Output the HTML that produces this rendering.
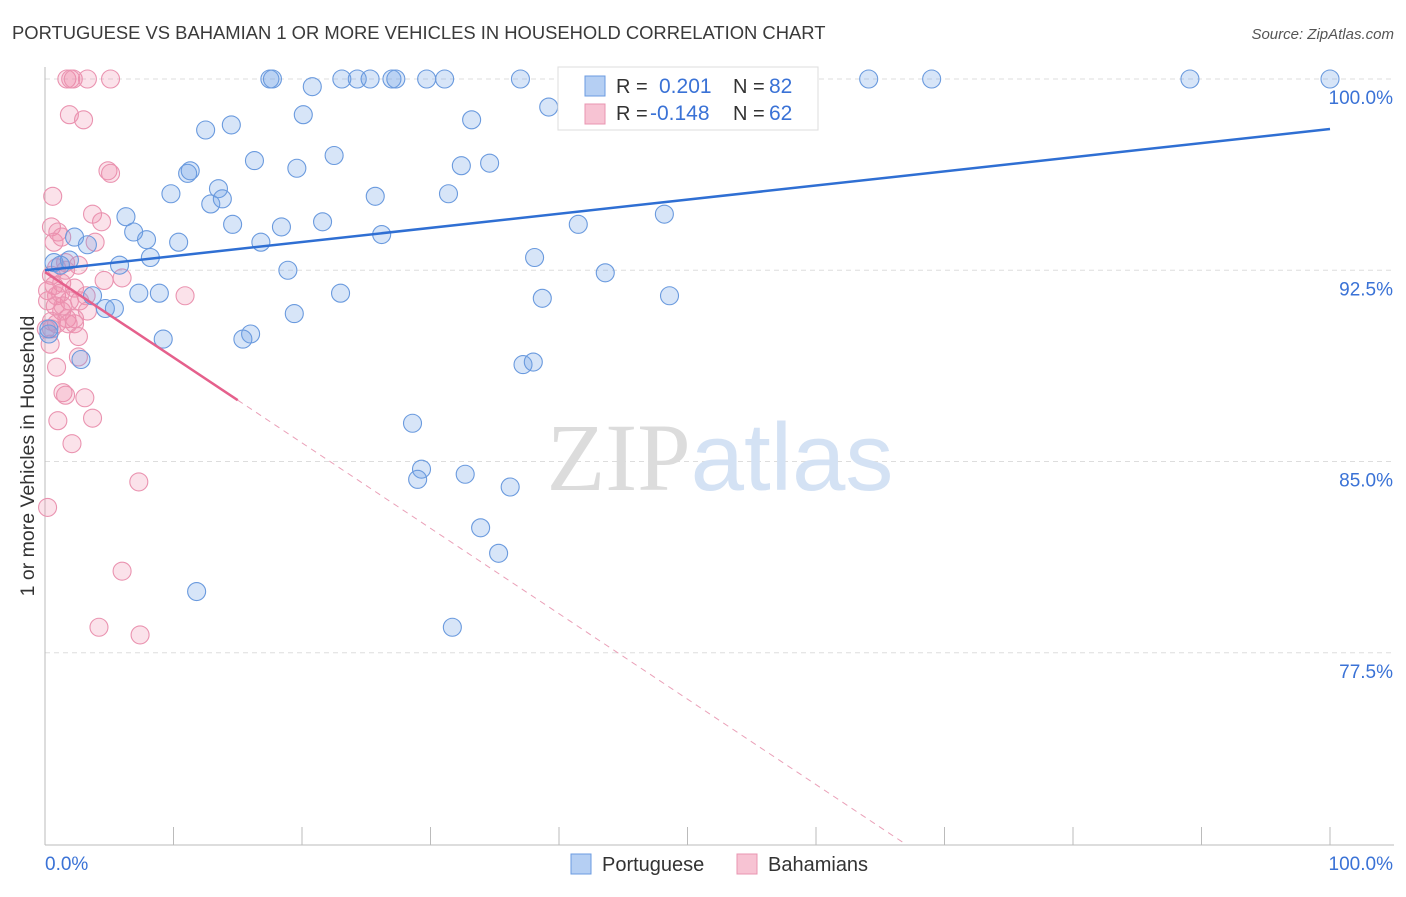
<!DOCTYPE html>
<html><head><meta charset="utf-8"><style>
body{margin:0;background:#fff;font-family:"Liberation Sans",sans-serif;}
svg text{font-family:"Liberation Sans",sans-serif;}
</style></head><body>
<svg id="chart" width="1406" height="892" viewBox="0 0 1406 892" xmlns="http://www.w3.org/2000/svg">
<text x="12" y="39" font-size="18.4" fill="#3a3a3a">PORTUGUESE VS BAHAMIAN 1 OR MORE VEHICLES IN HOUSEHOLD CORRELATION CHART</text>
<text x="1394" y="39" font-size="15" fill="#555" text-anchor="end" font-style="italic">Source: ZipAtlas.com</text>
<g id="grid"></g>
<g id="axes"></g>
<text x="720" y="490" font-size="96" text-anchor="middle" fill="#e4e4e4"><tspan font-family="Liberation Serif" fill="#dcdcdc">ZIP</tspan><tspan fill="#d4e2f4">atlas</tspan></text>
<g id="pts"></g>
<g id="lines"></g>
<text transform="translate(34,456) rotate(-90)" font-size="19.5" fill="#333" text-anchor="middle">1 or more Vehicles in Household</text>
<g>
<rect x="558" y="67" width="260" height="63" fill="#fff" stroke="#ddd"/>
<rect x="585" y="76" width="20" height="20" fill="#b5cff3" stroke="#6b9be0"/>
<rect x="585" y="104" width="20" height="20" fill="#f7c3d3" stroke="#e894b0"/>
<text x="616" y="93" font-size="20" fill="#333">R = </text><text x="659" y="93" font-size="21" fill="#3a72d6">0.201</text>
<text x="733" y="93" font-size="20" fill="#333">N = </text><text x="769" y="93" font-size="21" fill="#3a72d6">82</text>
<text x="616" y="120" font-size="20" fill="#333">R = </text><text x="650" y="120" font-size="21" fill="#3a72d6">-0.148</text>
<text x="733" y="120" font-size="20" fill="#333">N = </text><text x="769" y="120" font-size="21" fill="#3a72d6">62</text>
</g>
<g>
<rect x="571" y="854" width="20" height="20" fill="#b5cff3" stroke="#6b9be0"/>
<text x="602" y="871" font-size="20" fill="#333">Portuguese</text>
<rect x="737" y="854" width="20" height="20" fill="#f7c3d3" stroke="#e894b0"/>
<text x="768" y="871" font-size="20" fill="#333">Bahamians</text>
</g>
</svg>
<script>
const yTicks=[100,92.5,85,77.5];
const yTickLabels=["100.0%","92.5%","85.0%","77.5%"];
const xTickVals=[0,10,20,30,40,50,60,70,80,90,100];
const xEndLabels=["0.0%","100.0%"];
const blueX=[17.5,17.7,23.1,24.3,25.3,27.0,27.3,29.7,31.1,37.0,45.7,51.4,64.1,69.0,89.1,100.0,20.8,39.2,20.1,33.2,12.5,14.5,22.5,16.3,32.4,34.6,11.1,11.3,19.6,13.5,9.8,25.7,31.4,12.9,13.8,6.3,48.2,14.6,21.6,18.4,41.5,6.9,26.2,2.3,7.9,10.4,16.8,3.3,8.2,38.1,0.7,1.9,5.8,1.2,18.9,43.6,7.3,8.9,23.0,3.7,38.7,48.6,4.7,5.4,19.4,9.2,16.0,15.4,37.2,38.0,2.8,0.3,28.6,29.3,29.0,32.7,36.2,33.9,35.3,11.8,31.7,0.3];
const blueY=[100,100,100,100,100,100,100,100,100,100,100,100,100,100,100,100,99.7,98.9,98.6,98.4,98.0,98.2,97.0,96.8,96.6,96.7,96.3,96.4,96.5,95.7,95.5,95.4,95.5,95.1,95.3,94.6,94.7,94.3,94.4,94.2,94.3,94.0,93.9,93.8,93.7,93.6,93.6,93.5,93.0,93.0,92.8,92.9,92.7,92.7,92.5,92.4,91.6,91.6,91.6,91.5,91.4,91.5,91.0,91.0,90.8,89.8,90.0,89.8,88.8,88.9,89.0,90.0,86.5,84.7,84.3,84.5,84.0,82.4,81.4,79.9,78.5,90.2];
const pinkX=[1.7,2.0,2.2,3.3,5.1,1.9,3.0,4.9,5.1,0.6,3.7,4.4,0.5,1.0,0.7,3.9,1.3,1.6,2.6,0.5,6.0,4.6,1.3,2.3,0.7,0.9,3.2,10.9,1.9,0.2,1.3,1.7,0.5,2.3,0.9,1.8,0.1,0.5,2.6,0.4,2.6,0.9,1.4,1.6,3.1,1.0,3.7,2.1,7.3,0.2,6.0,4.2,7.4,0.8,1.2,1.6,2.3,0.2,2.7,1.4,0.9,3.3];
const pinkY=[100,100,100,100,100,98.6,98.4,96.4,96.3,95.4,94.7,94.4,94.2,94.0,93.6,93.6,93.8,92.8,92.7,92.3,92.2,92.1,92.0,91.8,91.9,91.5,91.5,91.5,91.3,91.3,90.9,90.6,90.5,90.4,90.4,90.4,90.2,90.2,89.9,89.6,89.1,88.7,87.7,87.6,87.5,86.6,86.7,85.7,84.2,83.2,80.7,78.5,78.2,91.1,91.6,92.5,90.6,91.7,91.3,91.1,92.6,90.9];
const blueTrend=[92.5,98.04];
const pinkTrend=[92.43,-0.335];
const pinkSolidEnd=15;

const NS="http://www.w3.org/2000/svg";
const X=v=>45+v*12.85;
const Y=v=>79+(100-v)*25.5;
function mk(t,a,p){const e=document.createElementNS(NS,t);for(const k in a)e.setAttribute(k,a[k]);p.appendChild(e);return e;}
const grid=document.getElementById('grid'),axes=document.getElementById('axes');
yTicks.forEach((t,i)=>{
 const l=mk('line',{x1:45,x2:1394,y1:Y(t),y2:Y(t),stroke:'#ddd','stroke-dasharray':'5,4'},grid);
 
 
 const tx=mk('text',{x:1393,y:Y(t)+25,'font-size':19,fill:'#3a72d6','text-anchor':'end'},axes);
 tx.textContent=yTickLabels[i];
 
 
});
const ax=mk('line',{x1:45,x2:1394,y1:845,y2:845,stroke:'#bbb'},axes);


const ay=mk('line',{x1:45,x2:45,y1:67,y2:845,stroke:'#bbb'},axes);


xTickVals.forEach(v=>{
 const t=mk('line',{x1:X(v),x2:X(v),y1:827,y2:845,stroke:'#bbb'},axes);
 
 
});
[[0,'start',45],[1,'end',1393]].forEach(([i,a,x])=>{
 const t=mk('text',{x:x,y:870,'font-size':19,fill:'#3a72d6','text-anchor':a},axes);
 t.textContent=xEndLabels[i];
 
 
});
const pts=document.getElementById('pts');
pinkX.forEach((v,i)=>{
 const c=mk('circle',{cx:X(v),cy:Y(pinkY[i]),r:9,fill:'rgba(240,140,170,0.25)',stroke:'#ea93b0','stroke-width':1.1},pts);
 
 
});
blueX.forEach((v,i)=>{
 const c=mk('circle',{cx:X(v),cy:Y(blueY[i]),r:9,fill:'rgba(110,160,230,0.28)',stroke:'#6a9ade','stroke-width':1.1},pts);
 
 
});
const lines=document.getElementById('lines');
const bl=mk('line',{x1:X(0),y1:Y(blueTrend[0]),x2:X(100),y2:Y(blueTrend[1]),stroke:'#2f6fd3','stroke-width':2.5},lines);


const pv=x=>pinkTrend[0]+pinkTrend[1]*x;
const pl=mk('line',{x1:X(0),y1:Y(pv(0)),x2:X(pinkSolidEnd),y2:Y(pv(pinkSolidEnd)),stroke:'#e5608c','stroke-width':2.5},lines);


const xEnd=(70-pinkTrend[0])/pinkTrend[1];
const pd=mk('line',{x1:X(pinkSolidEnd),y1:Y(pv(pinkSolidEnd)),x2:X(xEnd),y2:Y(70),stroke:'#eaa0b8','stroke-width':1,'stroke-dasharray':'6,5'},lines);


</script>
</body></html>
